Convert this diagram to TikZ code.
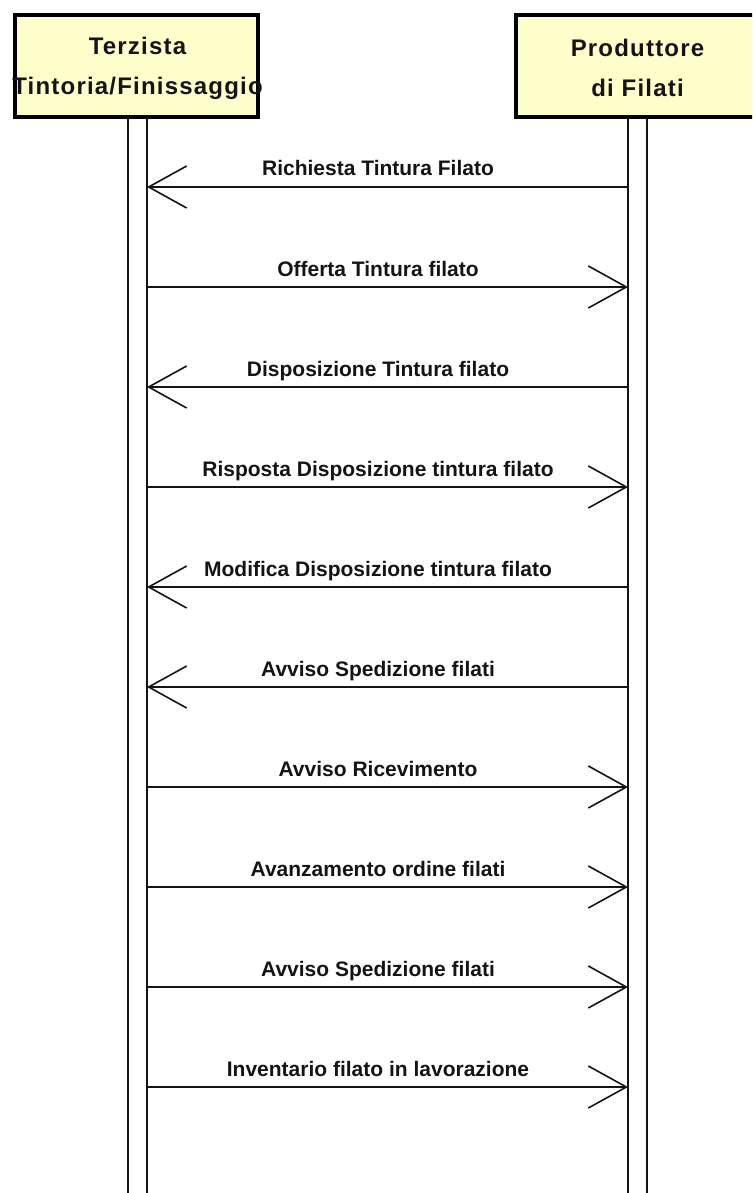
\documentclass[tikz,border=0pt]{standalone}
\usepackage{fontspec}
\setmainfont{Liberation Sans}
\newfontfamily\titlefont[LetterSpace=5]{Liberation Sans Bold}
\newfontfamily\msgfont{Liberation Sans Bold}
\usetikzlibrary{arrows.meta}
\definecolor{boxfill}{RGB}{255,255,204}
\definecolor{ink}{RGB}{20,20,20}
\tikzset{
  actor/.style={draw=black, line width=3.5pt, fill=boxfill, minimum height=102pt, inner sep=0pt},
  actortext/.style={font=\titlefont\fontsize{24pt}{40pt}\selectfont, align=center, text=ink},
  lifeline/.style={draw=ink, line width=1.8pt},
  msg/.style={draw=ink, line width=1.8pt, -{Straight Barb[length=38pt,width=42pt,line width=1.6pt]}},
  msglabel/.style={font=\msgfont\fontsize{21pt}{24pt}\selectfont, anchor=base, text=ink, inner sep=0pt}
}
\begin{document}
\begin{tikzpicture}[x=1pt,y=-1pt]
\useasboundingbox (0,0) rectangle (752,1193);
\clip (0,0) rectangle (752,1193);
% actor boxes
\node[actor, minimum width=243pt] (A) at (136.5,66) {};
\node[actor, minimum width=243pt] (B) at (637.5,66) {};
\node[actortext] (At) at (137.5,68) {Terzista\\Tintoria/Finissaggio};
\node[actortext] (Bt) at (637.5,68) {Produttore\\di Filati};
% lifelines
\coordinate (AL1) at (128,118); \coordinate (AL2) at (128,1193);
\coordinate (AR1) at (147,118); \coordinate (AR2) at (147,1193);
\coordinate (BL1) at (628,118); \coordinate (BL2) at (628,1193);
\coordinate (BR1) at (647,118); \coordinate (BR2) at (647,1193);
\draw[lifeline] (AL1) -- (AL2);
\draw[lifeline] (AR1) -- (AR2);
\draw[lifeline] (BL1) -- (BL2);
\draw[lifeline] (BR1) -- (BR2);
% message end points
\foreach \i/\y in {1/187,2/287,3/387,4/487,5/587,6/687,7/787,8/887,9/987,10/1087}{
  \coordinate (L\i) at (147,\y);
  \coordinate (R\i) at (628,\y);
}
\draw[msg] (R1) -- (L1);
\draw[msg] (L2) -- (R2);
\draw[msg] (R3) -- (L3);
\draw[msg] (L4) -- (R4);
\draw[msg] (R5) -- (L5);
\draw[msg] (R6) -- (L6);
\draw[msg] (L7) -- (R7);
\draw[msg] (L8) -- (R8);
\draw[msg] (L9) -- (R9);
\draw[msg] (L10) -- (R10);
% labels
\node[msglabel] (m1) at (378,176) {Richiesta Tintura Filato};
\node[msglabel] (m2) at (378,276) {Offerta Tintura filato};
\node[msglabel] (m3) at (378,376) {Disposizione Tintura filato};
\node[msglabel] (m4) at (378,476) {Risposta Disposizione tintura filato};
\node[msglabel] (m5) at (378,576) {Modifica Disposizione tintura filato};
\node[msglabel] (m6) at (378,676) {Avviso Spedizione filati};
\node[msglabel] (m7) at (378,776) {Avviso Ricevimento};
\node[msglabel] (m8) at (378,876) {Avanzamento ordine filati};
\node[msglabel] (m9) at (378,976) {Avviso Spedizione filati};
\node[msglabel] (m10) at (378,1076) {Inventario filato in lavorazione};
\end{tikzpicture}
\end{document}
